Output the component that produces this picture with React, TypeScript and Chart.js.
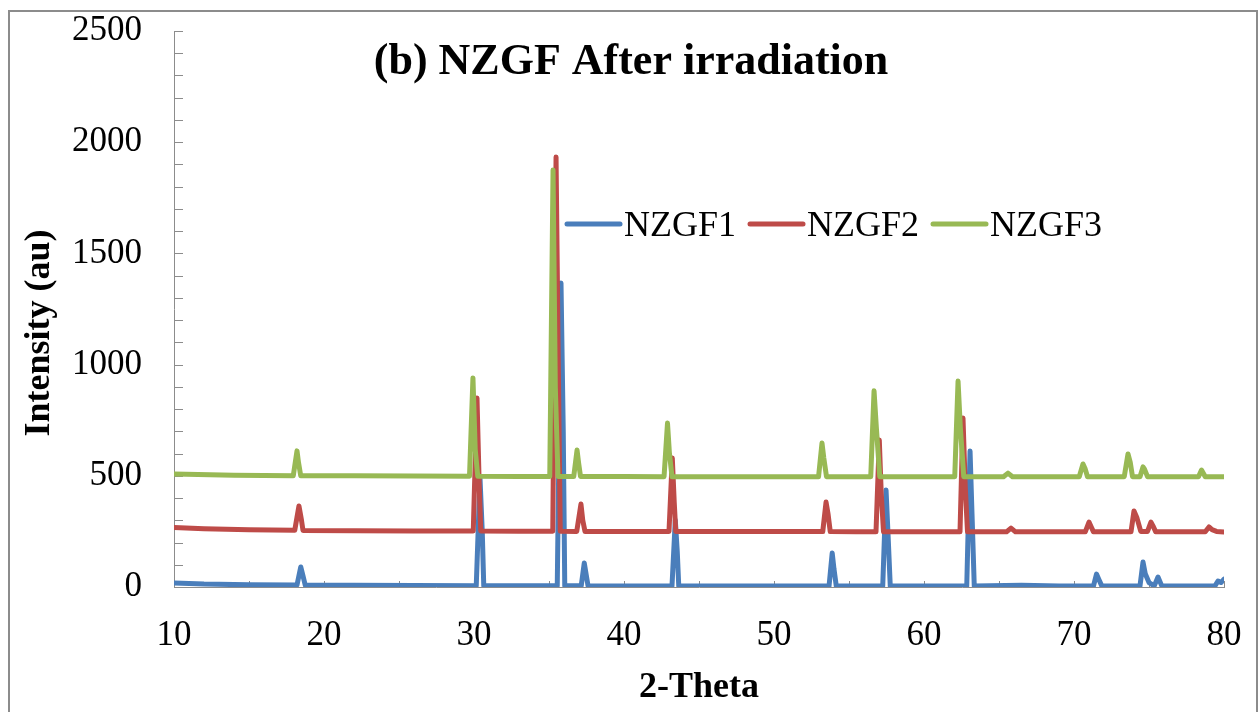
import React, { useEffect, useRef } from "react";
import { Chart, registerables } from "chart.js";

Chart.register(...registerables);

// ---- data ----
const seriesNames = ["NZGF1", "NZGF2", "NZGF3"];
const seriesColors = ["#4a7ebb", "#be4b48", "#98b954"];

const nzgf1Theta = [10, 12, 15, 18.2, 18.45, 18.6, 18.75, 22, 26, 30.15, 30.4, 30.55, 30.65, 33, 35.55, 35.8, 35.95, 36.05, 37.15, 37.35, 37.6, 40, 43.2, 43.42, 43.55, 43.65, 47, 50, 53.67, 53.88, 54.0, 54.15, 55.5, 57.25, 57.47, 57.6, 57.75, 60, 62.85, 63.07, 63.2, 63.35, 66.5, 69, 71.3, 71.5, 71.65, 71.85, 73, 74.4, 74.6, 74.75, 75.0, 75.35, 75.6, 75.85, 78, 79.4, 79.6, 79.8, 80];
const nzgf1Counts = [18, 13, 10, 9, 90, 50, 8, 8, 7, 6, 490, 250, 6, 6, 6, 1367, 700, 6, 6, 108, 6, 5, 5, 301, 160, 5, 5, 5, 5, 153, 80, 5, 5, 5, 436, 240, 5, 5, 5, 611, 330, 5, 8, 5, 5, 58, 35, 5, 5, 5, 112, 60, 20, 5, 45, 5, 5, 5, 27, 20, 35];

const nzgf2Theta = [10, 12, 15, 18.05, 18.33, 18.5, 18.6, 22, 26, 29.95, 30.2, 30.35, 30.45, 33, 35.25, 35.47, 35.62, 35.75, 36.85, 37.13, 37.25, 37.4, 40, 43.0, 43.22, 43.35, 43.45, 47, 50, 53.25, 53.47, 53.6, 53.75, 55.5, 56.8, 57.02, 57.15, 57.3, 60, 62.4, 62.6, 62.75, 62.9, 65.5, 65.8, 66.1, 69, 70.75, 71.0, 71.15, 71.3, 73, 73.8, 74.0, 74.2, 74.45, 74.9, 75.13, 75.3, 75.45, 77, 78.75, 79.0, 79.2, 79.5, 80];
const nzgf2Counts = [268, 262, 257, 255, 364, 300, 254, 253, 252, 252, 850, 450, 252, 251, 251, 1933, 1000, 251, 250, 373, 300, 250, 250, 250, 580, 380, 250, 249, 249, 249, 382, 330, 249, 248, 248, 661, 420, 248, 248, 248, 760, 450, 248, 248, 265, 248, 248, 248, 292, 270, 248, 248, 248, 342, 310, 250, 250, 292, 270, 248, 248, 248, 270, 258, 250, 247];

const nzgf3Theta = [10, 14, 17.95, 18.2, 18.3, 18.45, 22, 26, 29.7, 29.93, 30.08, 30.25, 33, 35.05, 35.27, 35.42, 35.6, 36.65, 36.87, 36.97, 37.1, 40, 42.67, 42.9, 43.03, 43.2, 47, 50, 52.97, 53.2, 53.32, 53.5, 55, 56.45, 56.67, 56.82, 57.05, 60, 62.05, 62.27, 62.42, 62.65, 65.3, 65.6, 65.9, 68, 70.35, 70.6, 70.75, 70.9, 73.35, 73.6, 73.75, 73.9, 74.4, 74.6, 74.7, 74.9, 77, 78.3, 78.5, 78.75, 80];
const nzgf3Counts = [508, 503, 500, 612, 560, 500, 500, 499, 498, 940, 620, 498, 497, 497, 1875, 900, 497, 497, 616, 560, 497, 497, 496, 737, 600, 496, 496, 496, 496, 647, 580, 496, 496, 496, 882, 720, 496, 496, 496, 926, 720, 496, 496, 512, 496, 496, 496, 553, 530, 496, 496, 598, 560, 496, 496, 540, 530, 496, 496, 496, 526, 496, 496];

const xTickValues = [10, 20, 30, 40, 50, 60, 70, 80];
const yTickValues = [0, 500, 1000, 1500, 2000, 2500];

const chartTitle = "(b) NZGF After irradiation";
const xTitle = "2-Theta";
const yTitle = "Intensity (au)";

const SERIF = "'Liberation Serif', 'Times New Roman', serif";

function toPoints(xs: number[], ys: number[]) {
  return xs.map((x, i) => ({ x, y: ys[i] }));
}

const decorPlugin = {
  id: "decor",
  beforeDatasetsDraw(chart: any) {
    const ctx = chart.ctx;
    const xs = chart.scales.x;
    const ys = chart.scales.y;
    ctx.save();
    ctx.strokeStyle = "#8c8c8c";
    ctx.lineWidth = 1;
    for (let v = 0; v <= 2500; v += 100) {
      const py = Math.round(ys.getPixelForValue(v)) + 0.5;
      ctx.beginPath();
      ctx.moveTo(xs.left, py);
      ctx.lineTo(xs.left + 9, py);
      ctx.stroke();
    }
    for (let v = 15; v <= 80; v += 5) {
      const px = Math.round(xs.getPixelForValue(v)) + 0.5;
      ctx.beginPath();
      ctx.moveTo(px, ys.bottom);
      ctx.lineTo(px, ys.bottom - 6);
      ctx.stroke();
    }
    ctx.restore();
  },
  afterDraw(chart: any) {
    const ctx = chart.ctx;
    ctx.save();
    ctx.fillStyle = "#000";
    ctx.font = `bold 44px ${SERIF}`;
    ctx.textAlign = "center";
    ctx.textBaseline = "alphabetic";
    ctx.fillText(chartTitle, 631, 74);
    ctx.save();
    ctx.translate(40, 333);
    ctx.rotate(-Math.PI / 2);
    ctx.font = `bold 36px ${SERIF}`;
    ctx.textAlign = "center";
    ctx.textBaseline = "middle";
    ctx.fillText(yTitle, 0, 0);
    ctx.restore();
    ctx.font = `36px ${SERIF}`;
    ctx.textAlign = "left";
    ctx.textBaseline = "alphabetic";
    let x = 567;
    const ly = 224;
    seriesNames.forEach((name, i) => {
      ctx.strokeStyle = seriesColors[i];
      ctx.lineWidth = 5;
      ctx.lineCap = "round";
      ctx.beginPath();
      ctx.moveTo(x, ly);
      ctx.lineTo(x + 53, ly);
      ctx.stroke();
      x += 57;
      ctx.fillStyle = "#000";
      ctx.fillText(name, x, 236);
      x += ctx.measureText(name).width + 14;
    });
    ctx.restore();
  },
};

export default function App() {
  const canvasRef = useRef<HTMLCanvasElement | null>(null);

  useEffect(() => {
    if (!canvasRef.current) return;
    const series = [
      toPoints(nzgf1Theta, nzgf1Counts),
      toPoints(nzgf2Theta, nzgf2Counts),
      toPoints(nzgf3Theta, nzgf3Counts),
    ];
    const chart = new Chart(canvasRef.current, {
      type: "scatter",
      data: {
        datasets: series.map((d, i) => ({
          label: seriesNames[i],
          data: d,
          showLine: true,
          borderColor: seriesColors[i],
          backgroundColor: seriesColors[i],
          borderWidth: 5,
          pointRadius: 0,
          tension: 0,
          borderJoinStyle: "round" as const,
          borderCapStyle: "round" as const,
          order: 3 - i,
        })),
      },
      options: {
        animation: false,
        responsive: true,
        maintainAspectRatio: false,
        devicePixelRatio: 1,
        layout: { padding: { left: 0, right: 34, top: 31, bottom: 0 } },
        plugins: {
          legend: { display: false },
          tooltip: { enabled: false },
          title: { display: false },
        },
        scales: {
          x: {
            type: "linear",
            min: 10,
            max: 80,
            afterFit: (s: any) => {
              s.height = 125;
              s.paddingLeft = 0;
              s.paddingRight = 0;
            },
            afterBuildTicks: (s: any) => {
              s.ticks = xTickValues.map((v) => ({ value: v }));
            },
            grid: { display: true, drawOnChartArea: false, drawTicks: false },
            border: { display: true, color: "#8c8c8c", width: 1 },
            ticks: {
              color: "#000",
              padding: 28,
              maxRotation: 0,
              callback: (v: any) => String(v),
              font: { family: SERIF, size: 35 },
            },
            title: {
              display: true,
              text: xTitle,
              color: "#000",
              font: { family: SERIF, size: 36, weight: "bold" },
              padding: { top: 0, bottom: 3 },
            },
          },
          y: {
            type: "linear",
            min: 0,
            max: 2500,
            afterFit: (s: any) => {
              s.width = 174;
              s.paddingTop = 0;
              s.paddingBottom = 0;
            },
            afterBuildTicks: (s: any) => {
              s.ticks = yTickValues.map((v) => ({ value: v }));
            },
            grid: { display: true, drawOnChartArea: false, drawTicks: false },
            border: { display: true, color: "#8c8c8c", width: 1 },
            ticks: {
              color: "#000",
              padding: 32,
              callback: (v: any) => String(v),
              font: { family: SERIF, size: 35 },
            },
          },
        },
      },
      plugins: [decorPlugin],
    } as any);
    return () => chart.destroy();
  }, []);

  return (
    <>
      <div
        style={{
          position: "fixed",
          left: 8,
          top: 10,
          width: 1246,
          height: 702,
          borderLeft: "2px solid #8c8c8c",
          borderRight: "2px solid #8c8c8c",
          borderTop: "2px solid #8c8c8c",
          background: "#fff",
        }}
      />
      <div style={{ position: "fixed", left: 0, top: 0, width: 1258, height: 712 }}>
        <canvas ref={canvasRef} />
      </div>
    </>
  );
}
